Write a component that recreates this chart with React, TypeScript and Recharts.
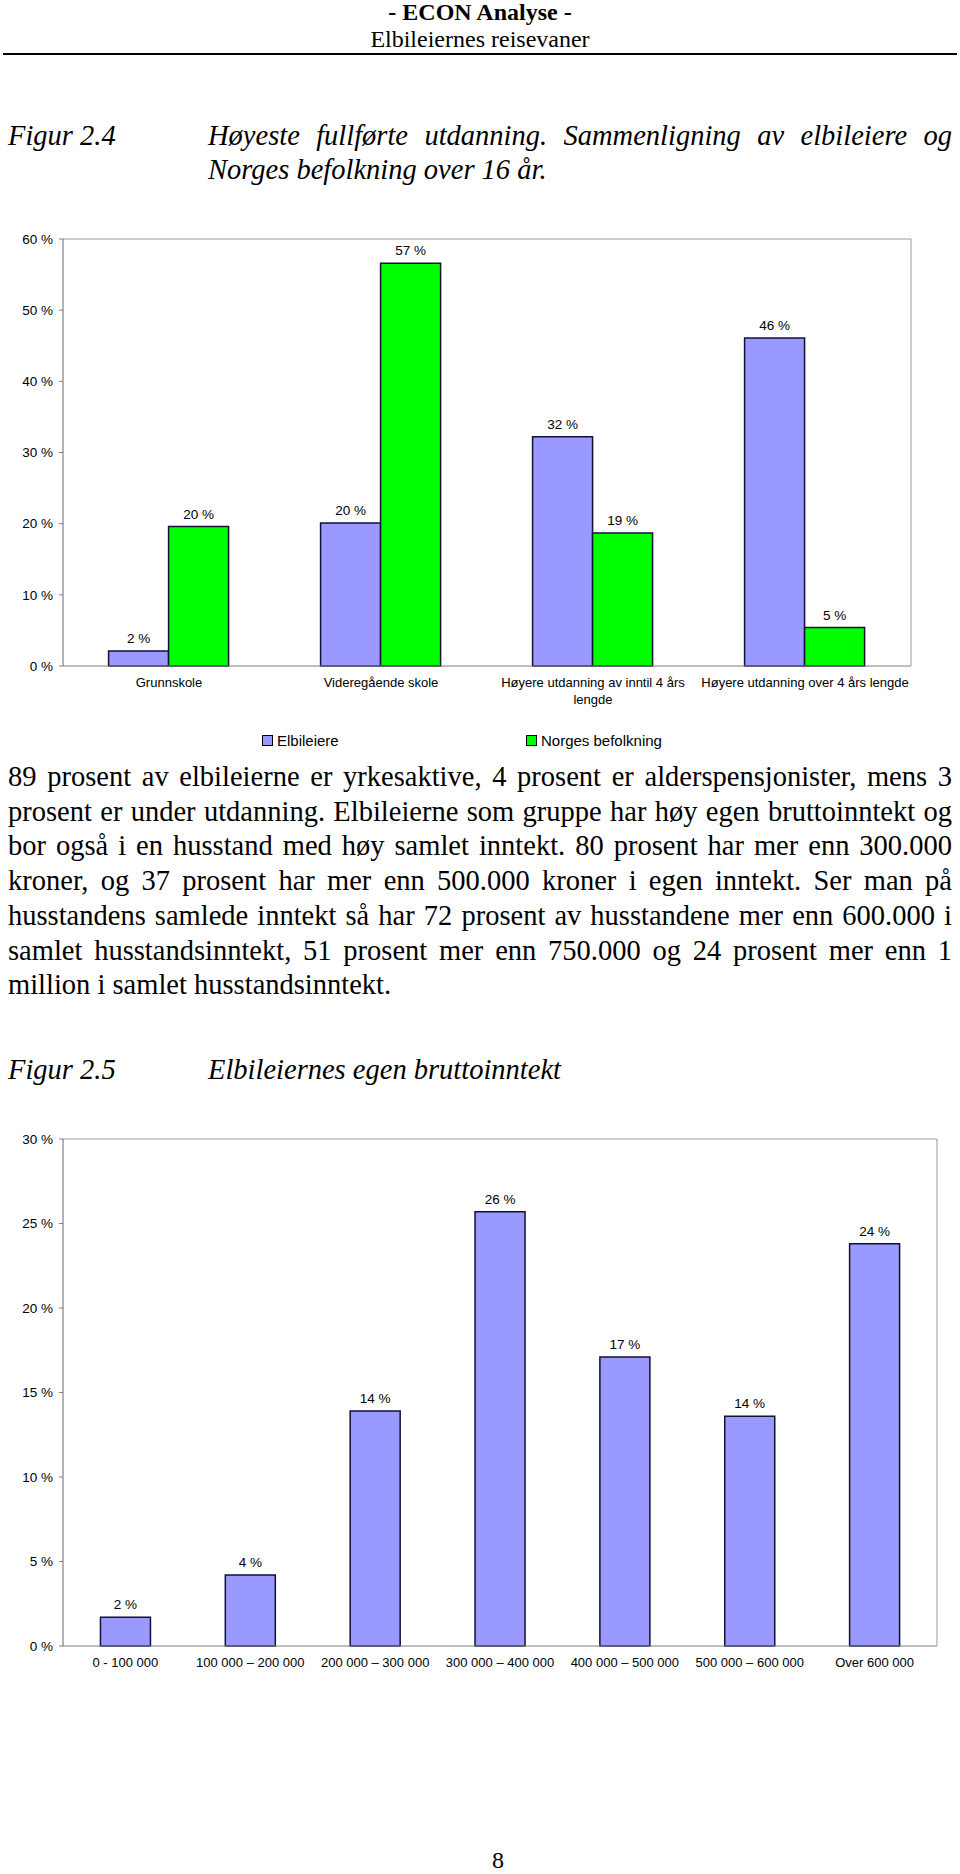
import React from 'react';
import { BarChart, Bar, XAxis, YAxis, Legend, LabelList } from 'recharts';

// Figur 2.4 – høyeste fullførte utdanning
const educationCategories = [
  'Grunnskole',
  'Videregående skole',
  'Høyere utdanning av inntil 4 års lengde',
  'Høyere utdanning over 4 års lengde',
];
const elbilEducation = [2.1, 20.1, 32.2, 46.1];
const norgeEducation = [19.6, 56.6, 18.7, 5.4];
const educationTicks = [0, 10, 20, 30, 40, 50, 60];

// Figur 2.5 – egen bruttoinntekt
const incomeCategories = [
  '0 - 100 000',
  '100 000 – 200 000',
  '200 000 – 300 000',
  '300 000 – 400 000',
  '400 000 – 500 000',
  '500 000 – 600 000',
  'Over 600 000',
];
const elbilIncome = [1.7, 4.2, 13.9, 25.7, 17.1, 13.6, 23.8];
const incomeTicks = [0, 5, 10, 15, 20, 25, 30];

const SANS = '"Liberation Sans", Arial, sans-serif';
const SERIF = '"Liberation Serif", "Times New Roman", serif';
const BLUE = '#9999ff';
const GREEN = '#00ff00';
const OUTLINE = '#111133';
const AXIS = '#808080';
const FRAME = '#999999';
const FS = 13.5;
const XFS = 13;

const pct = (v: number) => `${v} %`;
const roundPct = (v: any) => `${Math.round(Number(v))} %`;

const eduData = educationCategories.map((name, i) => ({
  name,
  elbil: elbilEducation[i],
  norge: norgeEducation[i],
}));
const incomeData = incomeCategories.map((name, i) => ({ name, elbil: elbilIncome[i] }));

// word wrapping measured with canvas so the breaks follow the real font
let measureCtx: CanvasRenderingContext2D | null = null;
const measure = (s: string) => {
  if (!measureCtx) measureCtx = document.createElement('canvas').getContext('2d');
  if (!measureCtx) return s.length * XFS * 0.5;
  measureCtx.font = `${XFS}px ${SANS}`;
  return measureCtx.measureText(s).width;
};
const wrapLabel = (label: string, maxWidth: number) => {
  const lines: string[] = [];
  let cur = '';
  label.split(' ').forEach((w) => {
    const test = cur ? `${cur} ${w}` : w;
    if (cur && measure(test) > maxWidth) {
      lines.push(cur);
      cur = w;
    } else cur = test;
  });
  if (cur) lines.push(cur);
  return lines;
};

const CategoryTick = (props: any) => {
  const { x, y, payload, wrapWidth } = props;
  const lines = wrapLabel(String(payload.value), wrapWidth);
  return (
    <text x={x} y={y} textAnchor="middle" fontSize={XFS} fontFamily={SANS} fill="#000">
      {lines.map((l, i) => (
        <tspan key={i} x={x} dy={i === 0 ? '0.71em' : 17}>
          {l}
        </tspan>
      ))}
    </text>
  );
};

const legendLeft = [262, 526];
const legendColors = [BLUE, GREEN];

const renderLegend = (props: any) => (
  <div style={{ position: 'relative', height: 30, fontFamily: SANS, fontSize: 15, color: '#000' }}>
    {(props.payload || []).map((entry: any, i: number) => (
      <div
        key={entry.value}
        style={{ position: 'absolute', left: legendLeft[i], top: 0, height: 30, display: 'flex', alignItems: 'center', whiteSpace: 'nowrap' }}
      >
        <span
          style={{
            display: 'inline-block',
            width: 11,
            height: 11,
            boxSizing: 'border-box',
            background: legendColors[i] || entry.color,
            border: '1px solid #000',
            marginRight: 4,
          }}
        />
        <span>{entry.value}</span>
      </div>
    ))}
  </div>
);

const tickStyle = { fontSize: FS, fontFamily: SANS, fill: '#000' };
const labelProps = { position: 'top' as const, offset: 8, formatter: roundPct, fill: '#000', fontSize: FS, fontFamily: SANS };

// extra 1px axes: tick marks at category borders, and the top/right frame of the plot
const renderFrameAxes = (n: number, max: number, tickWrap: number) => {
  const bounds = Array.from({ length: n + 1 }, (_, i) => i);
  return [
    <XAxis
      key="marks"
      xAxisId="marks"
      type="number"
      domain={[0, n]}
      ticks={bounds}
      allowDataOverflow
      tick={false}
      axisLine={false}
      tickLine={{ stroke: AXIS }}
      tickSize={5}
      height={1}
    />,
    <XAxis
      key="cat"
      xAxisId="cat"
      dataKey="name"
      height={1}
      interval={0}
      tickLine={false}
      axisLine={{ stroke: AXIS, strokeWidth: 1.2 }}
      tickSize={0}
      tickMargin={12}
      tick={<CategoryTick wrapWidth={tickWrap} />}
    />,
    <XAxis key="top" xAxisId="top" orientation="top" dataKey="name" height={1} tick={false} tickLine={false} axisLine={{ stroke: FRAME }} />,
    <YAxis key="right" yAxisId="right" orientation="right" width={1} domain={[0, max]} tick={false} tickLine={false} axisLine={{ stroke: FRAME }} />,
  ];
};

const EducationChart = () => (
  <BarChart
    width={960}
    height={560}
    data={eduData}
    margin={{ top: 38, right: 48, bottom: 62, left: 0 }}
    barGap={0}
    barCategoryGap="21.5%"
  >
    {renderFrameAxes(educationCategories.length, 60, 214)}
    <YAxis
      yAxisId="left"
      width={63}
      domain={[0, 60]}
      ticks={educationTicks}
      tickFormatter={pct}
      tick={tickStyle}
      tickSize={4}
      tickMargin={6}
      axisLine={{ stroke: AXIS, strokeWidth: 1.2 }}
      tickLine={{ stroke: AXIS }}
    />
    <Legend verticalAlign="bottom" height={30} wrapperStyle={{ left: 0, width: 960, bottom: 5 }} content={renderLegend} />
    <Bar xAxisId="cat" yAxisId="left" dataKey="elbil" name="Elbileiere" fill={BLUE} stroke={OUTLINE} strokeWidth={1.5} isAnimationActive={false}>
      <LabelList dataKey="elbil" {...labelProps} />
    </Bar>
    <Bar xAxisId="cat" yAxisId="left" dataKey="norge" name="Norges befolkning" fill={GREEN} stroke={OUTLINE} strokeWidth={1.5} isAnimationActive={false}>
      <LabelList dataKey="norge" {...labelProps} />
    </Bar>
  </BarChart>
);

const IncomeChart = () => (
  <BarChart
    width={960}
    height={600}
    data={incomeData}
    margin={{ top: 28, right: 22, bottom: 62, left: 0 }}
    barCategoryGap="30%"
  >
    {renderFrameAxes(incomeCategories.length, 30, 200)}
    <YAxis
      yAxisId="left"
      width={63}
      domain={[0, 30]}
      ticks={incomeTicks}
      tickFormatter={pct}
      tick={tickStyle}
      tickSize={4}
      tickMargin={6}
      axisLine={{ stroke: AXIS, strokeWidth: 1.2 }}
      tickLine={{ stroke: AXIS }}
    />
    <Bar xAxisId="cat" yAxisId="left" dataKey="elbil" name="Elbileiere" fill={BLUE} stroke={OUTLINE} strokeWidth={1.5} isAnimationActive={false}>
      <LabelList dataKey="elbil" {...labelProps} />
    </Bar>
  </BarChart>
);

const abs = (top: number, extra: React.CSSProperties = {}): React.CSSProperties => ({
  position: 'absolute',
  top,
  margin: 0,
  ...extra,
});

const paragraph =
  '89 prosent av elbileierne er yrkesaktive, 4 prosent er alderspensjonister, mens 3 prosent er under utdanning. ' +
  'Elbileierne som gruppe har høy egen bruttoinntekt og bor også i en husstand med høy samlet inntekt. ' +
  '80 prosent har mer enn 300.000 kroner, og 37 prosent har mer enn 500.000 kroner i egen inntekt. ' +
  'Ser man på husstandens samlede inntekt så har 72 prosent av husstandene mer enn 600.000 i samlet husstandsinntekt, ' +
  '51 prosent mer enn 750.000 og 24 prosent mer enn 1 million i samlet husstandsinntekt.';

export default function App() {
  return (
    <div
      style={{
        position: 'absolute',
        left: 0,
        top: 0,
        width: 960,
        height: 1874,
        overflow: 'hidden',
        background: '#fff',
        color: '#000',
        fontFamily: SERIF,
      }}
    >
      {/* page header */}
      <div style={abs(0, { left: 0, width: 960, textAlign: 'center', fontSize: 24, lineHeight: '24px', fontWeight: 'bold' })}>
        - ECON Analyse -
      </div>
      <div style={abs(27, { left: 0, width: 960, textAlign: 'center', fontSize: 24, lineHeight: '24px' })}>
        Elbileiernes reisevaner
      </div>
      <div style={abs(53, { left: 3, width: 954, height: 2, background: '#000' })} />

      {/* figure 2.4 caption */}
      <div style={abs(119, { left: 8, fontSize: 28.5, lineHeight: '34px', fontStyle: 'italic' })}>Figur 2.4</div>
      <div
        style={abs(119, {
          left: 208,
          width: 744,
          fontSize: 28.5,
          lineHeight: '34px',
          fontStyle: 'italic',
          textAlign: 'justify',
        })}
      >
        Høyeste fullførte utdanning. Sammenligning av elbileiere og Norges befolkning over 16 år.
      </div>

      <div style={abs(200, { left: 0 })}>
        <EducationChart />
      </div>

      <div style={abs(760, { left: 8, width: 944, fontSize: 28.5, lineHeight: '34.7px', textAlign: 'justify' })}>
        {paragraph}
      </div>

      {/* figure 2.5 caption */}
      <div style={abs(1053, { left: 8, fontSize: 28.5, lineHeight: '34px', fontStyle: 'italic' })}>Figur 2.5</div>
      <div style={abs(1053, { left: 208, fontSize: 28.5, lineHeight: '34px', fontStyle: 'italic' })}>
        Elbileiernes egen bruttoinntekt
      </div>

      <div style={abs(1110, { left: 0 })}>
        <IncomeChart />
      </div>

      <div style={abs(1848, { left: 0, width: 996, textAlign: 'center', fontSize: 24, lineHeight: '24px' })}>8</div>
    </div>
  );
}
